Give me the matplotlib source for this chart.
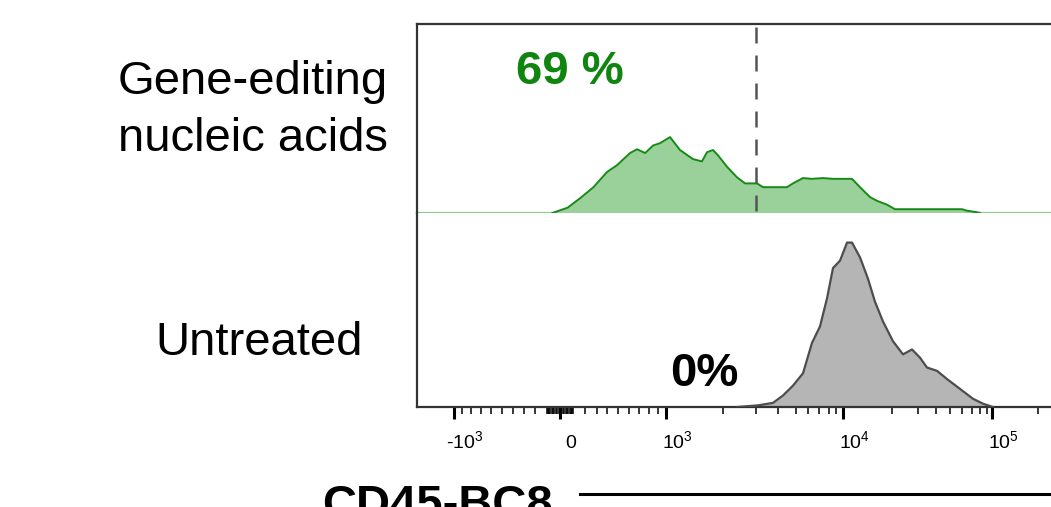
import numpy as np
import matplotlib
matplotlib.use("Agg")
import matplotlib.pyplot as plt
from matplotlib.lines import Line2D
from matplotlib.transforms import ScaledTranslation

plt.rcParams['font.family'] = ['Liberation Sans', 'DejaVu Sans']

# ---- data (CD45-BC8 fluorescence, histogram normalised to mode = 100) ----
edited_x = [-1700, -54, 54, 158, 270, 400, 490, 610, 680, 760, 845, 925, 1050,
            1186, 1389, 1549, 1646, 1771, 1882, 2100, 2376, 2621, 3039, 3289,
            4472, 4817, 5562, 6346, 7385, 8557, 11370, 12740, 14680, 16230,
            18700, 21050, 60300, 65100, 76200, 80000, 265000]
edited_y = [0, 0, 7, 20, 34, 54, 63, 79, 84, 79, 89, 92, 100,
            83, 71, 68, 80, 83, 76, 61, 47, 39, 39, 34,
            34, 39, 46, 45, 46, 45, 45, 34, 21, 16,
            11, 5, 5, 3, 1, 0, 0]

untreated_x = [2376, 3080, 3746, 4256, 4817, 5562, 6346, 7094, 7789, 8557,
               9560, 10590, 11370, 12740, 14270, 15770, 17670, 20410, 23850,
               27460, 31120, 34810, 40820, 47710, 58460, 71480, 84340, 101500]
untreated_y = [0, 1, 2.5, 7, 13, 20.5, 39, 49, 66, 84.5,
               89, 100, 100, 91, 78, 64, 52, 40, 32,
               35, 30, 24, 22, 17, 11, 5, 2, 0]

gate = 3000
edited_pct = "69 %"
untreated_pct = "0%"

major_ticks = [-1000, 0, 1000, 10000, 100000]
major_labels = [r'-$\mathregular{10^3}$', r'$\mathregular{0}$', r'$\mathregular{10^3}$',
                r'$\mathregular{10^4}$', r'$\mathregular{10^5}$']
minor_ticks = (list(range(-900, -100, 100)) + list(range(-100, 0, 10)) + list(range(10, 101, 10))
               + list(range(200, 1000, 100)) + list(range(2000, 10000, 1000))
               + list(range(20000, 100000, 10000)) + [200000])

# biexponential axis: value -> position (px from zero)
biex_vals = np.array([0, 100, 200, 300, 400, 500, 600, 700, 800, 900, 1000, 2000, 3000, 4000,
                      5000, 6000, 7000, 8000, 9000, 10000, 20000, 30000, 40000, 50000, 60000,
                      70000, 80000, 90000, 100000, 200000, 300000, 1000000])
biex_pos = np.array([0, 13, 25, 36.5, 47, 58, 69, 79, 89, 98, 106, 163, 196, 218,
                     236, 248, 259, 269, 276, 283, 331.7, 357.7, 375.7, 390, 401.7,
                     411.7, 420, 426.7, 432, 477.7, 504, 582])
biex_u = np.arcsinh(biex_vals / 100.0)


def fwd(x):
    u = np.arcsinh(np.asarray(x, float) / 100.0)
    return np.sign(u) * np.interp(np.abs(u), biex_u, biex_pos)


def inv(p):
    p = np.asarray(p, float)
    return 100.0 * np.sinh(np.sign(p) * np.interp(np.abs(p), biex_pos, biex_u))


W, H = 1051, 507
fig = plt.figure(figsize=(W / 100, H / 100), dpi=100)
left, right = 417, 1056
ax_top = fig.add_axes([left / W, (H - 213) / H, (right - left) / W, 189 / H])
ax_bot = fig.add_axes([left / W, (H - 407) / H, (right - left) / W, 194 / H], sharex=ax_top)

ax_bot.set_xscale('function', functions=(fwd, inv))
ax_bot.set_xlim(float(inv(left - 560)), float(inv(right - 560)))
ax_top.set_ylim(0, 249)
ax_bot.set_ylim(0, 118)

spine_c = '#333333'
for ax in (ax_top, ax_bot):
    for s in ax.spines.values():
        s.set_color(spine_c)
        s.set_linewidth(1.6)
    ax.spines['right'].set_visible(False)
    ax.set_yticks([])
ax_top.spines['bottom'].set_visible(False)
ax_bot.spines['top'].set_visible(False)
ax_top.tick_params(axis='x', which='both', bottom=False, labelbottom=False)

# histograms
ax_top.axhline(0, color='#8fce8f', lw=1.6, zorder=1)
ax_top.fill_between(edited_x, edited_y, color='#9ad09a', lw=0, zorder=2)
ax_top.plot(edited_x[1:-1], edited_y[1:-1], color='#168a16', lw=1.4, zorder=3)

ax_bot.fill_between(untreated_x, untreated_y, color='#b5b5b5', lw=0, zorder=2)
ax_bot.plot(untreated_x, untreated_y, color='#4d4d4d', lw=1.6, zorder=3)

# gate line through both panels
ax_top.plot([gate, gate], [0.985, -194 / 189], transform=ax_top.get_xaxis_transform(),
            color='#555555', lw=1.8, linestyle=(0, (6.4, 4.8)), clip_on=False, zorder=4)

# ticks
ax_bot.set_xticks(major_ticks)
ax_bot.set_xticklabels(major_labels)
ax_bot.set_xticks(minor_ticks, minor=True)
ax_bot.tick_params(axis='x', which='major', direction='out', length=8.6, width=2.2,
                   color='black', pad=21, labelsize=14)
ax_bot.tick_params(axis='x', which='minor', direction='out', length=5, width=1.1, color='black')
for lab in ax_bot.get_xticklabels():
    lab.set_family(['Liberation Sans Narrow', 'Liberation Sans'])
    lab.set_verticalalignment('baseline')
    lab.set_transform(lab.get_transform() + ScaledTranslation(0.11, 0, fig.dpi_scale_trans))

# percentages
ax_top.text((516 - left) / (right - left), (213 - 84) / 189, edited_pct, transform=ax_top.transAxes,
            ha='left', va='baseline', fontsize=34, fontweight='bold', color='#0f840f')
ax_bot.text((738 - left) / (right - left), (407 - 386) / 194, untreated_pct, transform=ax_bot.transAxes,
            ha='right', va='baseline', fontsize=34, fontweight='bold', color='black')

# row labels
fig.text(253 / W, (H - 94) / H, 'Gene-editing', ha='center', va='baseline', fontsize=34)
fig.text(253 / W, (H - 151) / H, 'nucleic acids', ha='center', va='baseline', fontsize=34)
fig.text(259.5 / W, (H - 355) / H, 'Untreated', ha='center', va='baseline', fontsize=34)

# axis title (cut off at the bottom) with its arrow line
fig.text(322 / W, (H - 518) / H, 'CD45-BC8', ha='left', va='baseline', fontsize=34, fontweight='bold')
fig.add_artist(Line2D([580 / W, 1.01], [(H - 494) / H] * 2, transform=fig.transFigure,
                      color='black', lw=2.2))

fig.savefig('out.png', dpi=100)
